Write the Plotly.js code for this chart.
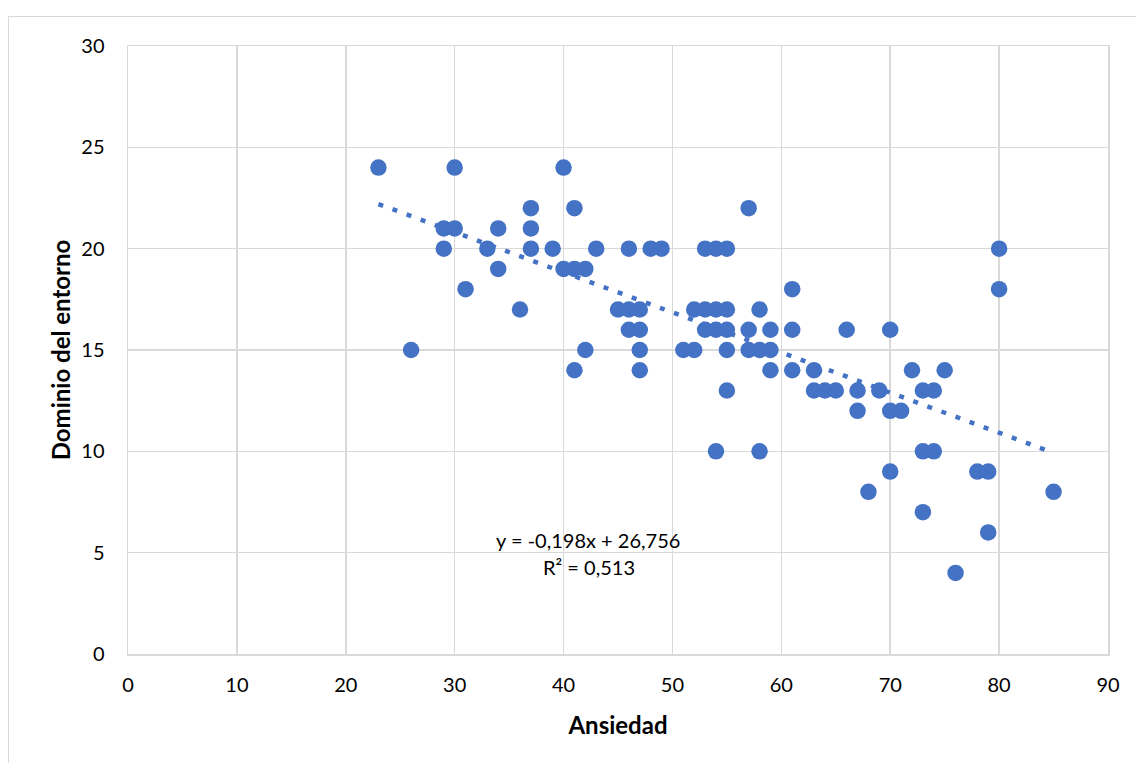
<!DOCTYPE html>
<html>
<head>
<meta charset="utf-8">
<script src="https://cdn.plot.ly/plotly-3.0.1.min.js"></script>
<style>
html,body{margin:0;padding:0;background:#fff;}
#wrap{position:relative;width:1136px;height:763px;}
#frame{position:absolute;left:8px;top:16px;right:-2px;bottom:-2px;border-left:1.5px solid #d9d9d9;border-top:1.5px solid #d9d9d9;pointer-events:none;}
#chart{position:absolute;left:0;top:0;width:1136px;height:763px;}
</style>
</head>
<body>
<div id="wrap"><div id="chart"></div><div id="frame"></div></div>
<script>
// Ansiedad (x) and Dominio del entorno (y)
const ansiedad = [23,26,29,29,30,30,31,33,34,34,36,37,37,37,39,40,40,41,41,41,42,42,43,
  45,46,46,46,47,47,47,47,48,49,51,52,52,53,53,53,54,54,54,54,55,55,55,55,55,
  57,57,57,58,58,58,59,59,59,61,61,61,63,63,64,65,66,67,67,68,69,70,70,70,71,72,
  73,73,73,74,74,75,76,78,79,79,80,80,85];
const dominio = [24,15,21,20,24,21,18,20,21,19,17,22,21,20,20,24,19,22,19,14,19,15,20,
  17,20,17,16,17,16,15,14,20,20,15,17,15,20,17,16,20,17,16,10,20,17,16,15,13,
  22,16,15,17,15,10,16,15,14,18,16,14,14,13,13,13,16,13,12,8,13,16,12,9,12,14,
  13,10,7,13,10,14,4,9,9,6,20,18,8];
// linear trendline coefficients as printed on the chart
const slope = -0.198;
const intercept = 26.756;
const equationText = "y = -0,198x + 26,756";
const r2Text = "R² = 0,513";
const xTicks = [0,10,20,30,40,50,60,70,80,90];
const yTicks = [0,5,10,15,20,25,30];

const xMin = Math.min(...ansiedad), xMax = Math.max(...ansiedad);
const trendX = [xMin, xMax];
const trendY = trendX.map(v => slope*v + intercept);

const font = "Lato, 'Open Sans', sans-serif";
const data = [
  {x: ansiedad, y: dominio, type:'scatter', mode:'markers',
   marker:{color:'#4472C4', size:16.5, line:{width:0}}, hoverinfo:'x+y', showlegend:false},
  {x: trendX, y: trendY, type:'scatter', mode:'lines',
   line:{color:'#4472C4', width:4.5, dash:'5px,10px'}, showlegend:false}
];
const layout = {
  width:1136, height:763,
  margin:{l:128, r:28, t:46, b:109},
  paper_bgcolor:'rgba(0,0,0,0)', plot_bgcolor:'#fff',
  font:{family:font, size:20, color:'#000'},
  xaxis:{range:[0,90], tickvals:xTicks, ticktext:xTicks.map(String), showgrid:true, gridcolor:'#d9d9d9', gridwidth:1.5,
    zeroline:false, showline:true, linecolor:'#d9d9d9', linewidth:1.5, mirror:true, ticks:'', ticklabelstandoff:12,
    title:{text:'<b>Ansiedad</b>', font:{size:24, family:font}, standoff:22}, fixedrange:true},
  yaxis:{range:[0,30], tickvals:yTicks, ticktext:yTicks.map(String), showgrid:true, gridcolor:'#d9d9d9', gridwidth:1.5,
    zeroline:false, showline:true, linecolor:'#d9d9d9', linewidth:1.5, mirror:true, ticks:'', ticklabelstandoff:18,
    title:{text:'<b>Dominio del entorno</b>', font:{size:24, family:font}, standoff:4}, fixedrange:true},
  annotations:[
    {x:42.2, y:5.62, xref:'x', yref:'y', text:equationText, showarrow:false, font:{size:20, family:font}},
    {x:42.3, y:4.29, xref:'x', yref:'y', text:r2Text, showarrow:false, font:{size:20, family:font}}
  ]
};
Plotly.newPlot('chart', data, layout, {displayModeBar:false, staticPlot:true});
</script>
</body>
</html>
